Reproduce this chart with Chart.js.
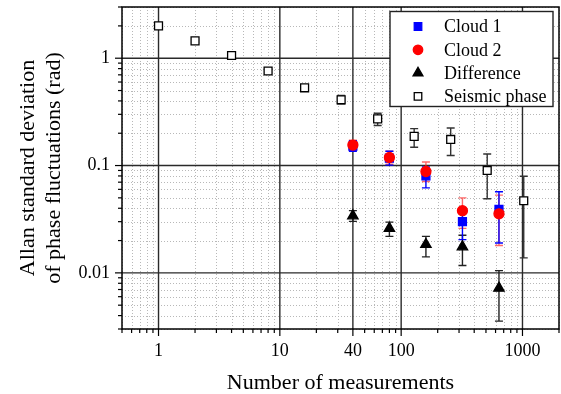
<!DOCTYPE html>
<html>
<head>
<meta charset="utf-8">
<script src="https://cdn.jsdelivr.net/npm/chart.js@4.4.0/dist/chart.umd.min.js"></script>
<style>
html, body { margin: 0; padding: 0; background: #fff; overflow: hidden; }
#contenedor { width: 561px; height: 394px; }
</style>
</head>
<body>
<div id="contenedor"><canvas id="graficoAllan"></canvas></div>
<script>
// Datos
const seismicN = [1, 2, 4, 8, 16, 32, 64, 128, 256, 512, 1024]
const seismicVal = [2.0, 1.45, 1.06, 0.76, 0.53, 0.41, 0.272, 0.187, 0.175, 0.09, 0.047]
const seismicLo = [1.94, 1.40, 1.03, 0.73, 0.51, 0.376, 0.236, 0.148, 0.124, 0.049, 0.0138]
const seismicHi = [2.06, 1.50, 1.10, 0.79, 0.55, 0.449, 0.307, 0.221, 0.224, 0.128, 0.0795]

const cloudN = [40, 80, 160, 320, 640]
const cloud1Val = [0.152, 0.117, 0.080, 0.030, 0.039]
const cloud1Lo = [0.136, 0.101, 0.062, 0.0204, 0.019]
const cloud1Hi = [0.170, 0.136, 0.097, 0.0396, 0.057]
const cloud2Val = [0.155, 0.119, 0.088, 0.038, 0.0355]
const cloud2Lo = [0.138, 0.103, 0.071, 0.026, 0.018]
const cloud2Hi = [0.172, 0.136, 0.108, 0.050, 0.053]
const diffVal = [0.034, 0.026, 0.0184, 0.0175, 0.0072]
const diffLo = [0.0302, 0.0219, 0.0141, 0.0117, 0.00355]
const diffHi = [0.038, 0.0297, 0.0219, 0.0224, 0.0105]

const xMajor = [1, 10, 40, 100, 1000]
const xTicks = [0.5, 0.6, 0.7, 0.8, 0.9, 1, 2, 3, 4, 5, 6, 7, 8, 9, 10, 20, 30, 40, 50, 60, 70, 80, 90,
    100, 200, 300, 400, 500, 600, 700, 800, 900, 1000, 2000]
const yMajor = [0.01, 0.1, 1]
const yTicks = [0.003, 0.004, 0.005, 0.006, 0.007, 0.008, 0.009, 0.01, 0.02, 0.03, 0.04, 0.05, 0.06, 0.07, 0.08, 0.09,
    0.1, 0.2, 0.3, 0.4, 0.5, 0.6, 0.7, 0.8, 0.9, 1, 2, 3]

const fuente = 'Liberation Serif'

const puntos = (xs, ys) => xs.map((v, i) => ({ x: v, y: ys[i] }))

const series = [
    { label: 'Cloud 1', n: cloudN, val: cloud1Val, lo: cloud1Lo, hi: cloud1Hi, style: 'rect', radius: 5.6,
      fill: '#0000ff', borde: '#0000ff', barra: '#0000ff', order: 1 },
    { label: 'Cloud 2', n: cloudN, val: cloud2Val, lo: cloud2Lo, hi: cloud2Hi, style: 'circle', radius: 5,
      fill: '#ff0000', borde: '#ff0000', barra: 'rgba(255,40,40,0.7)', order: 0 },
    { label: 'Difference', n: cloudN, val: diffVal, lo: diffLo, hi: diffHi, style: 'triangle', radius: 6,
      fill: '#000000', borde: '#000000', barra: '#222', order: 2 },
    { label: 'Seismic phase', n: seismicN, val: seismicVal, lo: seismicLo, hi: seismicHi, style: 'rect', radius: 5.6,
      fill: '#ffffff', borde: '#000000', barra: '#333', order: 3 }
]

//Rejilla, marcas y barras de error
const pluginFondo = {
    id: 'fondo',
    beforeDatasetsDraw(chart) {
        const { ctx, chartArea: a, scales: { x, y } } = chart
        ctx.save()
        // rejilla menor punteada
        ctx.setLineDash([1, 2])
        ctx.strokeStyle = '#b8b8b8'
        ctx.lineWidth = 1
        xTicks.filter(v => !xMajor.includes(v)).forEach(v => {
            const px = Math.round(x.getPixelForValue(v)) + 0.5
            ctx.beginPath(); ctx.moveTo(px, a.top); ctx.lineTo(px, a.bottom); ctx.stroke()
        })
        yTicks.filter(v => !yMajor.includes(v)).forEach(v => {
            const py = Math.round(y.getPixelForValue(v)) + 0.5
            ctx.beginPath(); ctx.moveTo(a.left, py); ctx.lineTo(a.right, py); ctx.stroke()
        })
        // rejilla mayor
        ctx.setLineDash([])
        ctx.strokeStyle = '#2a2a2a'
        ctx.lineWidth = 1.4
        xMajor.forEach(v => {
            const px = x.getPixelForValue(v)
            ctx.beginPath(); ctx.moveTo(px, a.top); ctx.lineTo(px, a.bottom); ctx.stroke()
        })
        yMajor.forEach(v => {
            const py = y.getPixelForValue(v)
            ctx.beginPath(); ctx.moveTo(a.left, py); ctx.lineTo(a.right, py); ctx.stroke()
        })
        // marcas de los ejes
        ctx.strokeStyle = '#000'
        ctx.lineWidth = 1.2
        xTicks.forEach(v => {
            const px = x.getPixelForValue(v)
            const largo = xMajor.includes(v) ? 7 : 4
            ctx.beginPath(); ctx.moveTo(px, a.bottom); ctx.lineTo(px, a.bottom + largo); ctx.stroke()
        })
        yTicks.forEach(v => {
            const py = y.getPixelForValue(v)
            const largo = yMajor.includes(v) ? 7 : 4
            ctx.beginPath(); ctx.moveTo(a.left, py); ctx.lineTo(a.left - largo, py); ctx.stroke()
        })
        // barras de error
        const cap = 4
        series.slice().reverse().forEach(s => {
            ctx.strokeStyle = s.barra
            ctx.lineWidth = 1.4
            s.n.forEach((n, i) => {
                const px = x.getPixelForValue(n)
                const pLo = y.getPixelForValue(s.lo[i])
                const pHi = y.getPixelForValue(s.hi[i])
                ctx.beginPath()
                ctx.moveTo(px, pLo); ctx.lineTo(px, pHi)
                ctx.moveTo(px - cap, pLo); ctx.lineTo(px + cap, pLo)
                ctx.moveTo(px - cap, pHi); ctx.lineTo(px + cap, pHi)
                ctx.stroke()
            })
        })
        ctx.restore()
    },
    afterDraw(chart) {
        const { ctx, chartArea: a } = chart
        ctx.save()
        // marco
        ctx.strokeStyle = '#000'
        ctx.lineWidth = 1.5
        ctx.strokeRect(a.left, a.top, a.right - a.left, a.bottom - a.top)
        // leyenda
        const ancho = 163, alto = 95
        const lx = a.right - 6 - ancho, ly = a.top + 4.5
        ctx.fillStyle = '#fff'
        ctx.fillRect(lx, ly, ancho, alto)
        ctx.strokeStyle = '#222'
        ctx.lineWidth = 1.4
        ctx.strokeRect(lx, ly, ancho, alto)
        ctx.font = '18px "' + fuente + '"'
        ctx.textBaseline = 'middle'
        ctx.textAlign = 'left'
        series.forEach((s, i) => {
            const fy = ly + 15 + i * 23.3
            ctx.fillStyle = s.fill
            ctx.strokeStyle = s.borde
            ctx.lineWidth = 1.3
            Chart.helpers.drawPoint(ctx, { pointStyle: s.style, radius: s.radius * 0.95, borderWidth: 1.3, rotation: 0 }, lx + 28, fy)
            ctx.fillStyle = '#000'
            ctx.fillText(s.label, lx + 54, fy + 1)
        })
        ctx.restore()
    }
}

const generarGraficoAllan = () => {
    const lienzo = document.getElementById('graficoAllan')

    new Chart(lienzo, {
        type: 'scatter',
        data: {
            datasets: series.map(s => ({
                label: s.label,
                data: puntos(s.n, s.val),
                pointStyle: s.style,
                pointRadius: s.radius,
                pointHoverRadius: s.radius,
                backgroundColor: s.fill,
                borderColor: s.borde,
                borderWidth: 1.3,
                order: s.order
            }))
        },
        options: {
            responsive: true,
            maintainAspectRatio: false,
            animation: false,
            layout: { autoPadding: false, padding: { top: 7, right: 2, left: 0, bottom: 0 } },
            plugins: { legend: { display: false }, tooltip: { enabled: false } },
            scales: {
                x: {
                    type: 'logarithmic',
                    min: 0.5,
                    max: 2000,
                    afterBuildTicks: (eje) => { eje.ticks = xTicks.map(v => ({ value: v })) },
                    afterFit: (eje) => {
                        eje.height = 65
                        eje.paddingLeft = 0
                        eje.paddingRight = 0
                    },
                    ticks: {
                        autoSkip: false,
                        maxRotation: 0,
                        padding: 5,
                        color: '#000',
                        font: { family: fuente, size: 18 },
                        callback: (v) => xMajor.includes(v) ? String(v) : ''
                    },
                    grid: { display: true, drawOnChartArea: false, drawTicks: true, tickLength: 6, tickColor: 'rgba(0,0,0,0)' },
                    border: { display: false },
                    title: {
                        display: true,
                        text: 'Number of measurements',
                        color: '#000',
                        font: { family: fuente, size: 22 },
                        padding: { top: 0, bottom: -2 }
                    }
                },
                y: {
                    type: 'logarithmic',
                    min: 0.003,
                    max: 3,
                    afterBuildTicks: (eje) => { eje.ticks = yTicks.map(v => ({ value: v })) },
                    afterFit: (eje) => {
                        eje.width = 122
                        eje.paddingTop = 0
                        eje.paddingBottom = 0
                    },
                    ticks: {
                        autoSkip: false,
                        padding: 6,
                        color: '#000',
                        font: { family: fuente, size: 18 },
                        callback: (v) => yMajor.includes(v) ? String(v) : ''
                    },
                    grid: { display: true, drawOnChartArea: false, drawTicks: true, tickLength: 6, tickColor: 'rgba(0,0,0,0)' },
                    border: { display: false },
                    title: {
                        display: true,
                        text: ['Allan standard deviation', 'of phase fluctuations (rad)'],
                        color: '#000',
                        font: { family: fuente, size: 22 },
                        padding: { top: 15, bottom: 0 }
                    }
                }
            }
        },
        plugins: [pluginFondo]
    })
}

generarGraficoAllan()
</script>
</body>
</html>
